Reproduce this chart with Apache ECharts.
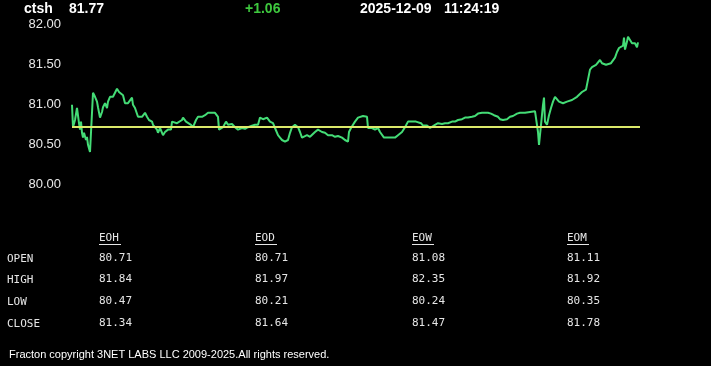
<!DOCTYPE html>
<html>
<head>
<meta charset="utf-8">
<script src="https://cdn.jsdelivr.net/npm/echarts@6/dist/echarts.min.js"></script>
<style>
html,body{margin:0;padding:0;background:#000;}
#chart{width:711px;height:366px;}
</style>
</head>
<body>
<div id="chart"></div>
<script>
// ---- data ----
const symbol = 'ctsh';
const lastPrice = '81.77';
const changeText = '+1.06';
const dateText = '2025-12-09';
const timeText = '11:24:19';
const refPrice = 80.71; // open reference line
const yTicks = [80.00, 80.50, 81.00, 81.50, 82.00];

// minutes since session open
const minutes = [
  0,0.2,0.6,1.0,1.2,1.4,1.6,1.8,2.0,2.2,
  2.4,2.8,3.0,3.2,3.6,3.8,4.0,4.2,4.6,5.0,
  5.2,5.6,6.0,6.2,6.6,7.0,7.2,7.6,8.0,8.2,
  8.6,9.0,9.4,9.8,10.2,10.6,11.2,11.6,12.0,12.2,
  12.6,13.0,13.2,13.6,14.0,14.6,15.0,15.4,16.0,16.2,
  16.6,17.0,17.2,17.6,18.0,18.2,18.6,19.0,19.2,19.8,
  20.0,20.4,21.0,21.4,22.0,22.2,22.8,23.2,23.8,24.2,
  24.8,25.2,25.6,26.0,26.6,27.2,27.6,28.0,28.6,29.2,
  29.4,29.8,30.2,30.8,31.2,32.0,32.6,33.2,34.0,34.6,
  35.2,36.0,36.6,37.2,37.6,38.2,39.0,39.6,40.2,40.6,
  41.2,41.6,42.0,42.6,43.2,43.6,44.0,44.6,45.2,45.6,
  46.0,46.4,47.0,47.6,48.0,48.6,49.2,49.6,50.0,50.6,
  51.2,52.0,52.6,53.2,54.0,54.6,55.2,55.4,55.8,56.2,
  56.6,57.2,57.6,58.2,59.0,59.2,59.6,60.0,60.6,61.2,
  61.6,62.0,62.4,63.0,63.6,64.0,64.6,65.2,65.6,66.0,
  66.6,67.2,67.8,68.2,68.8,69.2,69.8,70.2,71.0,71.6,
  72.0,72.6,73.2,74.0,74.6,75.2,76.0,76.6,77.2,78.0,
  78.6,79.2,80.0,80.6,81.2,82.0,82.4,83.2,83.8,84.4,
  85.2,85.6,86.2,87.0,87.6,88.2,89.0,89.6,90.6,91.6,
  92.6,93.0,93.2,93.4,93.8,94.2,94.4,94.6,95.0,95.4,
  95.8,96.2,96.6,97.0,97.4,97.8,98.2,98.6,99.0,99.4,
  100.0,100.4,101.0,101.4,102.0,102.4,102.8,103.2,103.6,104.0,
  104.4,104.8,105.2,105.6,106.0,106.4,106.8,107.2,107.8,108.2,
  108.6,109.0,109.4,109.8,110.2,110.4,110.6,111.0,111.2,111.6,
  112.0,112.2,112.6,113.0,113.2
];
const prices = [
  80.99,80.71,80.80,80.95,80.93,80.76,80.68,80.78,80.64,80.58,
  80.64,80.55,80.59,80.49,80.40,80.39,80.89,81.14,81.09,81.03,
  80.96,80.83,80.90,80.96,81.01,80.95,81.03,81.09,81.08,81.09,
  81.14,81.19,81.15,81.14,81.11,81.01,81.01,81.03,81.08,80.99,
  80.95,80.95,80.84,80.86,80.84,80.89,80.84,80.80,80.78,80.74,
  80.76,80.68,80.64,80.70,80.68,80.61,80.65,80.64,80.68,80.68,
  80.78,80.80,80.76,80.78,80.80,80.83,80.78,80.76,80.74,80.71,
  80.80,80.84,80.83,80.84,80.86,80.89,80.88,80.89,80.89,80.84,
  80.68,80.70,80.71,80.78,80.74,80.75,80.71,80.68,80.70,80.69,
  80.71,80.73,80.74,80.74,80.83,80.81,80.83,80.78,80.76,80.70,
  80.61,80.58,80.55,80.53,80.55,80.64,80.71,80.74,80.71,80.65,
  80.58,80.59,80.61,80.59,80.61,80.65,80.68,80.70,80.65,80.64,
  80.61,80.61,80.59,80.60,80.58,80.55,80.53,80.65,80.70,80.74,
  80.78,80.83,80.85,80.85,80.84,80.70,80.68,80.70,80.68,80.70,
  80.65,80.64,80.58,80.58,80.58,80.59,80.58,80.61,80.61,80.65,
  80.71,80.78,80.78,80.79,80.78,80.80,80.76,80.73,80.73,80.70,
  80.71,80.74,80.76,80.75,80.76,80.76,80.78,80.78,80.80,80.81,
  80.83,80.83,80.84,80.85,80.88,80.89,80.90,80.89,80.88,80.86,
  80.84,80.81,80.80,80.81,80.84,80.85,80.88,80.89,80.89,80.90,
  80.91,80.89,80.65,80.49,80.74,80.99,81.08,80.78,80.74,80.86,
  80.95,81.03,81.09,81.08,81.03,81.05,81.01,80.99,81.03,81.01,
  81.05,81.04,81.09,81.11,81.15,81.14,81.18,81.18,81.43,81.46,
  81.45,81.49,81.51,81.55,81.51,81.53,81.49,81.49,81.51,81.53,
  81.58,81.65,81.70,81.71,81.73,81.83,81.68,81.78,81.84,81.80,
  81.76,81.78,81.76,81.71,81.77
];
const sessionMinutes = 113.6;

const periods = ['EOH', 'EOD', 'EOW', 'EOM'];
const rowLabels = ['OPEN', 'HIGH', 'LOW', 'CLOSE'];
const openVals  = ['80.71', '80.71', '81.08', '81.11'];
const highVals  = ['81.84', '81.97', '82.35', '81.92'];
const lowVals   = ['80.47', '80.21', '80.24', '80.35'];
const closeVals = ['81.34', '81.64', '81.47', '81.78'];
const footerText = 'Fracton copyright 3NET LABS LLC 2009-2025.All rights reserved.';

// ---- layout ----
const sans = 'Arial, "Liberation Sans", sans-serif';
const mono = '"DejaVu Sans Mono", "Liberation Mono", monospace';
const colX = [99, 255, 412, 567];
const rowY = [259, 280, 302, 324];
const tableColor = '#e6e6e6';

const graphics = [];
function txt(x, y, text, font, fill, extra) {
  graphics.push(Object.assign({
    type: 'text', x: x, y: y,
    style: { text: text, font: font, fill: fill, textVerticalAlign: 'middle' }
  }, extra || {}));
}
// header
txt(24, 9.5, symbol, 'bold 14px ' + sans, '#ffffff');
txt(69, 9.5, lastPrice, 'bold 14px ' + sans, '#ffffff');
txt(245, 9.5, changeText, 'bold 14px ' + sans, '#3ec83e');
txt(360, 9.5, dateText, 'bold 14px ' + sans, '#ffffff');
txt(444, 9.5, timeText, 'bold 14px ' + sans, '#ffffff');

// table
const tableRows = [openVals, highVals, lowVals, closeVals];
periods.forEach(function (p, i) {
  txt(colX[i], 238, p, '11px ' + mono, tableColor);
  graphics.push({
    type: 'line',
    shape: { x1: colX[i], y1: 244.5, x2: colX[i] + 22, y2: 244.5 },
    style: { stroke: tableColor, lineWidth: 1 }
  });
});
rowLabels.forEach(function (r, j) {
  txt(7, rowY[j] + 0.5, r, '11px ' + mono, tableColor);
  tableRows[j].forEach(function (v, i) {
    txt(colX[i], rowY[j] - 1, v, '11px ' + mono, tableColor);
  });
});
// footer
txt(9, 355, footerText, '11px ' + sans, '#ffffff');

const chart = echarts.init(document.getElementById('chart'));
chart.setOption({
  backgroundColor: '#000000',
  animation: false,
  grid: { left: 72, right: 71, top: 24, bottom: 182 },
  xAxis: {
    type: 'value', min: 0, max: sessionMinutes, show: false
  },
  yAxis: {
    type: 'value', min: yTicks[0], max: yTicks[yTicks.length - 1], interval: 0.5,
    axisLine: { show: false }, axisTick: { show: false }, splitLine: { show: false },
    axisLabel: {
      color: '#e8e8e8', fontSize: 13, fontFamily: sans, margin: 11,
      formatter: function (v) { return v.toFixed(2); }
    }
  },
  series: [{
    type: 'line',
    data: minutes.map(function (m, i) { return [m, prices[i]]; }),
    showSymbol: false,
    lineStyle: { color: '#44dc76', width: 2 },
    markLine: {
      silent: true, symbol: 'none', label: { show: false },
      lineStyle: { color: '#dbe96a', width: 2, type: 'solid' },
      data: [{ yAxis: refPrice }]
    }
  }],
  graphic: graphics
});
</script>
</body>
</html>
